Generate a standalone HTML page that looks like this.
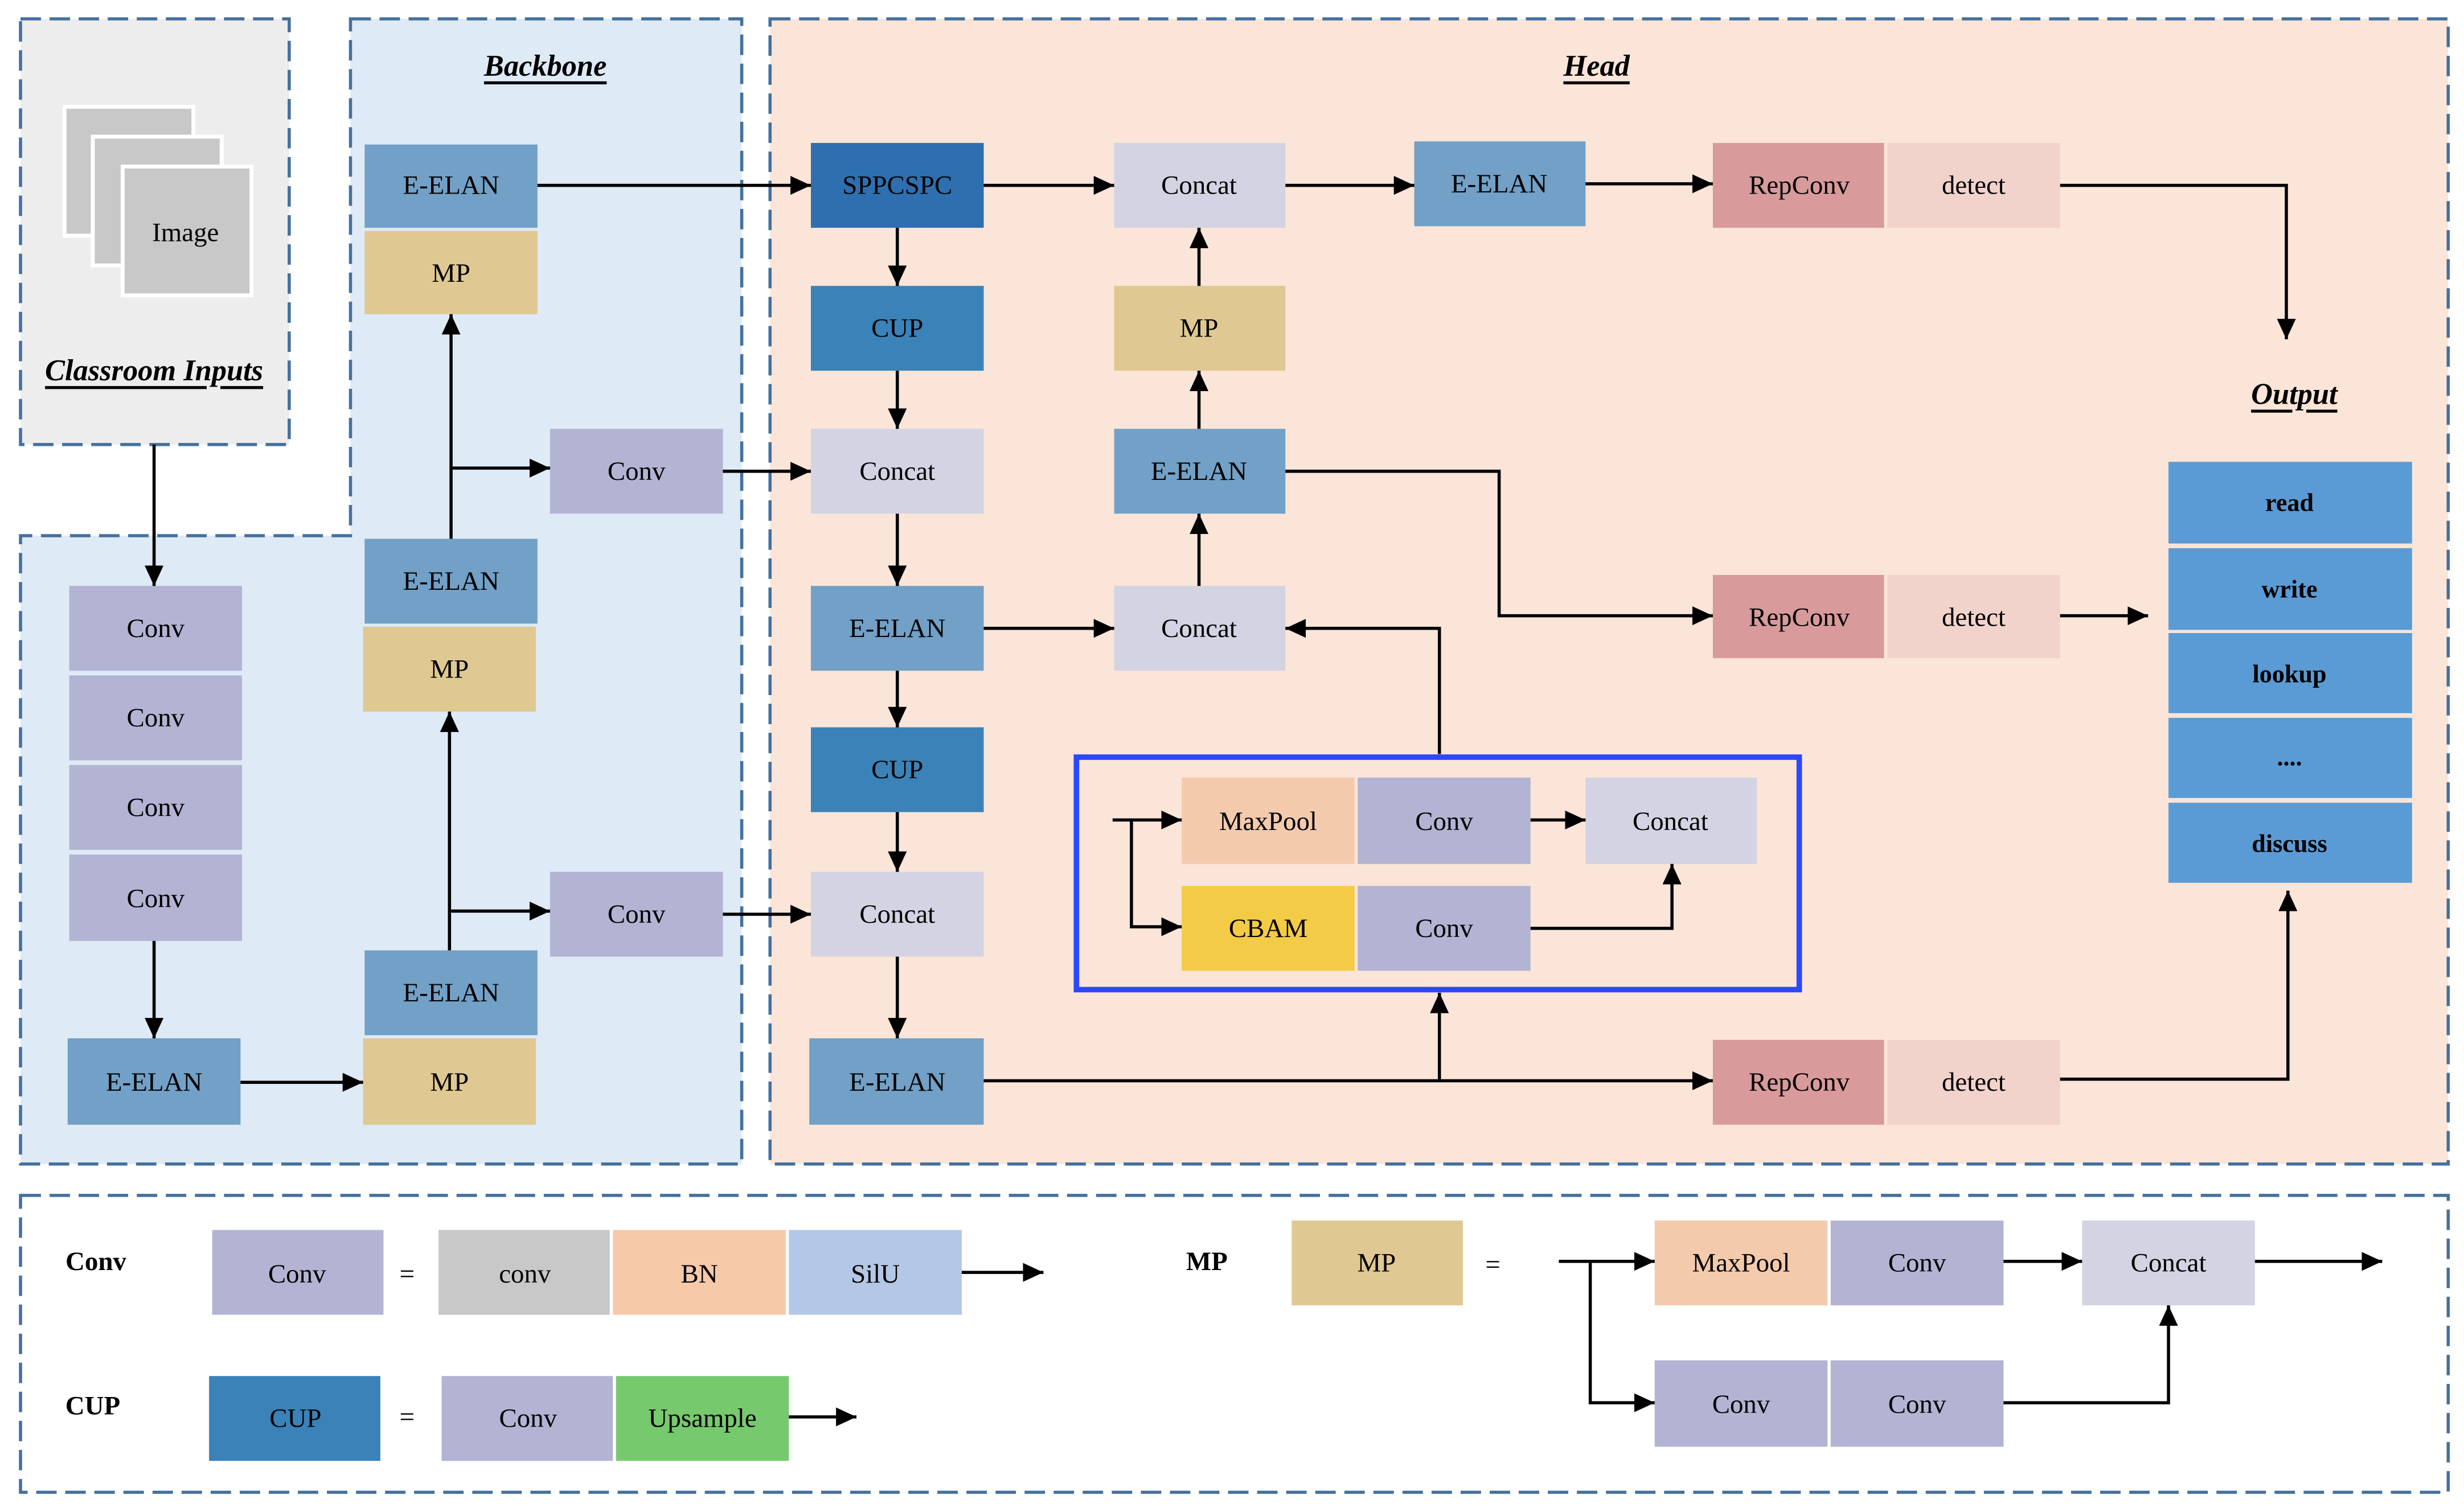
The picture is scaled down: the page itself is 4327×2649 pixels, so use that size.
<!DOCTYPE html>
<html><head><meta charset="utf-8"><style>
html,body{margin:0;padding:0;background:#fff}
svg{display:block}
svg text{font-family:"Liberation Serif","DejaVu Serif",serif;font-size:17px;fill:#000;text-anchor:middle;dominant-baseline:central}
.t{font-weight:bold;font-style:italic;text-decoration:underline;font-size:19px}
.b{font-weight:bold}
.w{font-weight:bold;font-size:16px}
.ln{stroke:#000;stroke-width:2;fill:none}
.dash{stroke:#44709e;stroke-width:2;stroke-dasharray:13 5.5}
</style></head><body>
<svg width="4327" height="2649" viewBox="0 0 1568 960" xmlns="http://www.w3.org/2000/svg" font-family="Liberation Serif, DejaVu Serif, serif">
<defs>
<marker id="a" markerUnits="userSpaceOnUse" markerWidth="14" markerHeight="12" refX="13" refY="6" orient="auto">
<path d="M0,0 L13,6 L0,12 Z" fill="#000"/></marker>
</defs>
<rect x="13" y="12" width="171" height="271" fill="#ededed" class="dash"/>
<path d="M223,12 H472 V741 H13 V341 H223 Z" fill="#deeaf5" class="dash"/>
<rect x="490" y="12" width="1068" height="729" fill="#fae5d8" class="dash"/>
<rect x="13" y="761" width="1545" height="189" fill="#fff" class="dash"/>

<rect x="41" y="68" width="82" height="82" fill="#c8c8c8" stroke="#fff" stroke-width="2.5"/>
<rect x="59" y="87" width="82" height="82" fill="#c8c8c8" stroke="#fff" stroke-width="2.5"/>
<rect x="78" y="106" width="82" height="82" fill="#c8c8c8" stroke="#fff" stroke-width="2.5"/>
<text x="118" y="148">Image</text>
<text class="t" x="98" y="236">Classroom Inputs</text>
<text class="t" x="347" y="42">Backbone</text>
<text class="t" x="1016" y="42">Head</text>
<text class="t" x="1460" y="251">Output</text>

<g>
<rect x="232" y="92" width="110" height="53" fill="#72a0c6"/><text x="287" y="118">E-ELAN</text>
<rect x="232" y="147" width="110" height="53" fill="#e0c892"/><text x="287" y="174">MP</text>
<rect x="350" y="273" width="110" height="54" fill="#b3b3d3"/><text x="405" y="300">Conv</text>
<rect x="232" y="343" width="110" height="54" fill="#72a0c6"/><text x="287" y="370">E-ELAN</text>
<rect x="231" y="399" width="110" height="54" fill="#e0c892"/><text x="286" y="426">MP</text>
<rect x="350" y="555" width="110" height="54" fill="#b3b3d3"/><text x="405" y="582">Conv</text>
<rect x="232" y="605" width="110" height="54" fill="#72a0c6"/><text x="287" y="632">E-ELAN</text>
<rect x="231" y="661" width="110" height="55" fill="#e0c892"/><text x="286" y="689">MP</text>
<rect x="44" y="373" width="110" height="54" fill="#b3b3d3"/><text x="99" y="400">Conv</text>
<rect x="44" y="430" width="110" height="54" fill="#b3b3d3"/><text x="99" y="457">Conv</text>
<rect x="44" y="487" width="110" height="54" fill="#b3b3d3"/><text x="99" y="514">Conv</text>
<rect x="44" y="544" width="110" height="55" fill="#b3b3d3"/><text x="99" y="572">Conv</text>
<rect x="43" y="661" width="110" height="55" fill="#72a0c6"/><text x="98" y="689">E-ELAN</text>

<rect x="516" y="91" width="110" height="54" fill="#2e6fb0"/><text x="571" y="118">SPPCSPC</text>
<rect x="516" y="182" width="110" height="54" fill="#3b82b8"/><text x="571" y="209">CUP</text>
<rect x="516" y="273" width="110" height="54" fill="#d3d3e3"/><text x="571" y="300">Concat</text>
<rect x="516" y="373" width="110" height="54" fill="#72a0c6"/><text x="571" y="400">E-ELAN</text>
<rect x="516" y="463" width="110" height="54" fill="#3b82b8"/><text x="571" y="490">CUP</text>
<rect x="516" y="555" width="110" height="54" fill="#d3d3e3"/><text x="571" y="582">Concat</text>
<rect x="515" y="661" width="111" height="55" fill="#72a0c6"/><text x="571" y="689">E-ELAN</text>

<rect x="709" y="91" width="109" height="54" fill="#d3d3e3"/><text x="763" y="118">Concat</text>
<rect x="709" y="182" width="109" height="54" fill="#e0c892"/><text x="763" y="209">MP</text>
<rect x="709" y="273" width="109" height="54" fill="#72a0c6"/><text x="763" y="300">E-ELAN</text>
<rect x="709" y="373" width="109" height="54" fill="#d3d3e3"/><text x="763" y="400">Concat</text>

<rect x="900" y="90" width="109" height="54" fill="#72a0c6"/><text x="954" y="117">E-ELAN</text>
<rect x="1090" y="91" width="109" height="54" fill="#d99a9c"/><text x="1145" y="118">RepConv</text>
<rect x="1201" y="91" width="110" height="54" fill="#f2d3cc"/><text x="1256" y="118">detect</text>
<rect x="1090" y="366" width="109" height="53" fill="#d99a9c"/><text x="1145" y="393">RepConv</text>
<rect x="1201" y="366" width="110" height="53" fill="#f2d3cc"/><text x="1256" y="393">detect</text>
<rect x="1090" y="662" width="109" height="54" fill="#d99a9c"/><text x="1145" y="689">RepConv</text>
<rect x="1201" y="662" width="110" height="54" fill="#f2d3cc"/><text x="1256" y="689">detect</text>

<rect x="1380" y="294" width="155" height="52" fill="#5b9bd5"/><text class="w" x="1457" y="320">read</text>
<rect x="1380" y="349" width="155" height="52" fill="#5b9bd5"/><text class="w" x="1457" y="375">write</text>
<rect x="1380" y="403" width="155" height="51" fill="#5b9bd5"/><text class="w" x="1457" y="429">lookup</text>
<rect x="1380" y="457" width="155" height="51" fill="#5b9bd5"/><text class="w" x="1457" y="482">....</text>
<rect x="1380" y="511" width="155" height="51" fill="#5b9bd5"/><text class="w" x="1457" y="537">discuss</text>

<rect x="685" y="482" width="460" height="148" fill="none" stroke="#2b47ff" stroke-width="3.5"/>
<rect x="752" y="495" width="110" height="55" fill="#f4caad"/><text x="807" y="523">MaxPool</text>
<rect x="864" y="495" width="110" height="55" fill="#b3b3d3"/><text x="919" y="523">Conv</text>
<rect x="1009" y="495" width="109" height="55" fill="#d3d3e3"/><text x="1063" y="523">Concat</text>
<rect x="752" y="564" width="110" height="54" fill="#f3cb46"/><text x="807" y="591">CBAM</text>
<rect x="864" y="564" width="110" height="54" fill="#b3b3d3"/><text x="919" y="591">Conv</text>

<text class="b" x="61" y="803">Conv</text>
<rect x="135" y="783" width="109" height="54" fill="#b3b3d3"/><text x="189" y="811">Conv</text>
<text x="259" y="811">=</text>
<rect x="279" y="783" width="109" height="54" fill="#c8c8c8"/><text x="334" y="811">conv</text>
<rect x="390" y="783" width="110" height="54" fill="#f6c9a9"/><text x="445" y="811">BN</text>
<rect x="502" y="783" width="110" height="54" fill="#b4c7e7"/><text x="557" y="811">SilU</text>
<text class="b" x="59" y="895">CUP</text>
<rect x="133" y="876" width="109" height="54" fill="#3b82b8"/><text x="188" y="903">CUP</text>
<text x="259" y="902">=</text>
<rect x="281" y="876" width="109" height="54" fill="#b3b3d3"/><text x="336" y="903">Conv</text>
<rect x="392" y="876" width="110" height="54" fill="#77c96e"/><text x="447" y="903">Upsample</text>
<text class="b" x="768" y="803">MP</text>
<rect x="822" y="777" width="109" height="54" fill="#e0c892"/><text x="876" y="804">MP</text>
<text x="950" y="805">=</text>
<rect x="1053" y="777" width="110" height="54" fill="#f4caad"/><text x="1108" y="804">MaxPool</text>
<rect x="1165" y="777" width="110" height="54" fill="#b3b3d3"/><text x="1220" y="804">Conv</text>
<rect x="1325" y="777" width="110" height="54" fill="#d3d3e3"/><text x="1380" y="804">Concat</text>
<rect x="1053" y="866" width="110" height="55" fill="#b3b3d3"/><text x="1108" y="894">Conv</text>
<rect x="1165" y="866" width="110" height="55" fill="#b3b3d3"/><text x="1220" y="894">Conv</text>
</g>

<g class="ln">
<path d="M342,118 H516" marker-end="url(#a)"/>
<path d="M287,343 V200" marker-end="url(#a)"/>
<path d="M287,298 H350" marker-end="url(#a)"/>
<path d="M460,300 H516" marker-end="url(#a)"/>
<path d="M286,605 V453" marker-end="url(#a)"/>
<path d="M287,580 H350" marker-end="url(#a)"/>
<path d="M460,582 H516" marker-end="url(#a)"/>
<path d="M98,283 V373" marker-end="url(#a)"/>
<path d="M98,599 V661" marker-end="url(#a)"/>
<path d="M153,689 H231" marker-end="url(#a)"/>
<path d="M571,145 V182" marker-end="url(#a)"/>
<path d="M571,236 V273" marker-end="url(#a)"/>
<path d="M571,327 V373" marker-end="url(#a)"/>
<path d="M571,427 V463" marker-end="url(#a)"/>
<path d="M571,517 V555" marker-end="url(#a)"/>
<path d="M571,609 V661" marker-end="url(#a)"/>
<path d="M626,118 H709" marker-end="url(#a)"/>
<path d="M818,118 H900" marker-end="url(#a)"/>
<path d="M1009,117 H1090" marker-end="url(#a)"/>
<path d="M1311,118 H1455 V216" marker-end="url(#a)"/>
<path d="M763,182 V145" marker-end="url(#a)"/>
<path d="M763,273 V236" marker-end="url(#a)"/>
<path d="M763,373 V327" marker-end="url(#a)"/>
<path d="M626,400 H709" marker-end="url(#a)"/>
<path d="M818,300 H954 V392 H1090" marker-end="url(#a)"/>
<path d="M916,480 V400 H818" marker-end="url(#a)"/>
<path d="M626,688 H1090" marker-end="url(#a)"/>
<path d="M916,688 V632" marker-end="url(#a)"/>
<path d="M1311,392 H1367" marker-end="url(#a)"/>
<path d="M1311,687 H1456 V567" marker-end="url(#a)"/>
<path d="M708,522 H752" marker-end="url(#a)"/>
<path d="M720,522 V590 H752" marker-end="url(#a)"/>
<path d="M974,522 H1009" marker-end="url(#a)"/>
<path d="M974,591 H1064 V550" marker-end="url(#a)"/>
<path d="M612,810 H664" marker-end="url(#a)"/>
<path d="M502,902 H545" marker-end="url(#a)"/>
<path d="M992,803 H1053" marker-end="url(#a)"/>
<path d="M1012,803 V893 H1053" marker-end="url(#a)"/>
<path d="M1275,803 H1325" marker-end="url(#a)"/>
<path d="M1435,803 H1516" marker-end="url(#a)"/>
<path d="M1275,893 H1380 V831" marker-end="url(#a)"/>
</g>
</svg>
</body></html>
